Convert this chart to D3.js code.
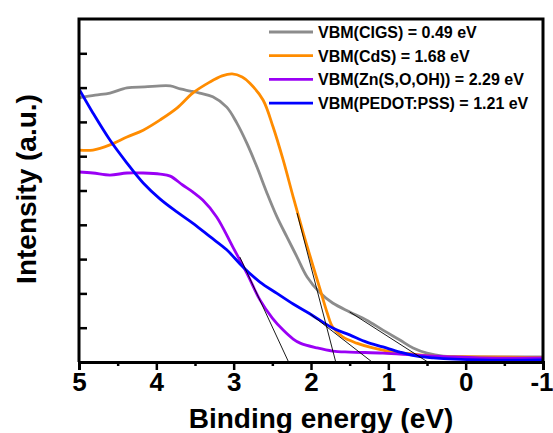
<!DOCTYPE html>
<html>
<head>
<meta charset="utf-8">
<script src="https://cdn.jsdelivr.net/npm/d3@7"></script>
<style>
  html, body { margin: 0; padding: 0; background: #fff; }
  svg { display: block; font-family: Arial, "Liberation Sans", sans-serif; }
</style>
</head>
<body>
<svg id="chart" width="553" height="433"></svg>
<script>
// UPS valence-band spectra: binding energy (eV) vs. intensity (a.u.)
const cigsE   = [5.00, 4.79, 4.60, 4.38, 4.15, 3.82, 3.69, 3.56, 3.44, 3.27, 3.09, 2.96, 2.83, 2.70, 2.57, 2.44, 2.31, 2.18, 2.05, 1.88, 1.72, 1.50, 1.28, 1.07, 0.85, 0.68, 0.50, 0.29, -0.19, -1.00];
const cigsI   = [7.70, 7.78, 7.84, 7.99, 8.02, 8.05, 7.96, 7.90, 7.84, 7.73, 7.43, 6.97, 6.38, 5.69, 4.93, 4.23, 3.64, 3.06, 2.48, 2.01, 1.72, 1.46, 1.22, 0.93, 0.64, 0.41, 0.26, 0.17, 0.15, 0.15];

const cdsE    = [5.00, 4.82, 4.60, 4.38, 4.17, 3.95, 3.73, 3.53, 3.31, 3.15, 3.02, 2.89, 2.79, 2.62, 2.49, 2.36, 2.23, 2.10, 1.97, 1.88, 1.79, 1.72, 1.59, 1.41, 1.20, 0.94, 0.68, 0.42, -0.19, -1.00];
const cdsI    = [6.18, 6.18, 6.33, 6.56, 6.76, 7.06, 7.41, 7.84, 8.16, 8.34, 8.40, 8.31, 8.13, 7.64, 6.85, 5.89, 4.81, 3.76, 2.77, 2.10, 1.43, 1.02, 0.73, 0.55, 0.41, 0.29, 0.23, 0.17, 0.15, 0.13];

const znsE    = [5.00, 4.82, 4.60, 4.38, 4.17, 3.95, 3.82, 3.66, 3.53, 3.40, 3.22, 3.01, 2.83, 2.66, 2.50, 2.36, 2.23, 2.14, 1.92, 1.72, 1.50, 1.07, 0.63, 0.20, -0.19, -1.00];
const znsI    = [5.54, 5.51, 5.45, 5.51, 5.51, 5.48, 5.42, 5.16, 4.96, 4.72, 4.23, 3.35, 2.59, 1.81, 1.28, 0.93, 0.67, 0.55, 0.41, 0.32, 0.29, 0.26, 0.20, 0.15, 0.12, 0.12];

const pedotE  = [5.00, 4.82, 4.60, 4.38, 4.17, 3.95, 3.73, 3.53, 3.31, 3.09, 2.88, 2.66, 2.44, 2.23, 2.01, 1.72, 1.50, 1.28, 1.07, 0.85, 0.63, 0.42, -0.19, -1.00];
const pedotI  = [7.96, 7.26, 6.47, 5.80, 5.22, 4.75, 4.37, 4.05, 3.66, 3.27, 2.77, 2.33, 2.00, 1.69, 1.40, 0.99, 0.79, 0.58, 0.44, 0.29, 0.17, 0.12, 0.06, 0.06];

// Legend text and colours, in drawing order
const seriesNames  = ["VBM(CIGS) = 0.49 eV", "VBM(CdS) = 1.68 eV", "VBM(Zn(S,O,OH)) = 2.29 eV", "VBM(PEDOT:PSS) = 1.21 eV"];
const seriesColors = ["#8c8c8c", "#ff8c00", "#9a00f5", "#0000ff"];

// Valence-band maximum (x-intercept of each linear extrapolation) and the
// point on the leading edge where each extrapolation line starts
const vbm        = [0.49, 1.68, 2.29, 1.21];
const edgeStartE = [1.50, 2.18, 2.92, 2.01];
const edgeStartI = [1.46, 4.34, 3.06, 1.40];

// Axis ticks
const xMajorTicks = [5, 4, 3, 2, 1, 0, -1];
const xMinorTicks = [4.5, 3.5, 2.5, 1.5, 0.5, -0.5];
const yTicks      = [1, 2, 3, 4, 5, 6, 7, 8, 9];

const svg = d3.select("#chart");
const plotL = 79, plotR = 543, plotT = 19, plotB = 362;

const x = d3.scaleLinear().domain([5, -1]).range([plotL, plotR]);
const y = d3.scaleLinear().domain([0, 10]).range([plotB, plotT]);

const series = [
  { E: cigsE,  I: cigsI },
  { E: cdsE,   I: cdsI },
  { E: znsE,   I: znsI },
  { E: pedotE, I: pedotI }
];

svg.append("clipPath").attr("id", "plotClip")
  .append("rect").attr("x", plotL).attr("y", plotT)
  .attr("width", plotR - plotL).attr("height", plotB - plotT);

const plot = svg.append("g").attr("clip-path", "url(#plotClip)");

const line = d3.line()
  .x(d => x(d[0]))
  .y(d => y(d[1]))
  .curve(d3.curveCatmullRom.alpha(0.5));

series.forEach((s, i) => {
  const pts = s.E.map((e, k) => [e, s.I[k]]).sort((a, b) => b[0] - a[0]);
  plot.append("path")
    .attr("d", line(pts))
    .attr("fill", "none")
    .attr("stroke", seriesColors[i])
    .attr("stroke-width", 2.8)
    .attr("stroke-linejoin", "round");
});

// Linear extrapolations of the leading edges down to the baseline
vbm.forEach((v, i) => {
  plot.append("line")
    .attr("x1", x(edgeStartE[i])).attr("y1", y(edgeStartI[i]))
    .attr("x2", x(v)).attr("y2", y(0))
    .attr("stroke", "#000")
    .attr("stroke-width", 0.9);
});

// Frame
svg.append("path")
  .attr("d", `M${plotL},${plotB}V${plotT}H${plotR}V${plotB}`)
  .attr("fill", "none").attr("stroke", "#000").attr("stroke-width", 3);

// Bottom axis with outward ticks
const xAxis = svg.append("g").attr("transform", `translate(0,${plotB})`)
  .call(d3.axisBottom(x).tickValues(xMajorTicks).tickSize(8).tickPadding(3)
        .tickFormat(d => String(d)));
xAxis.select(".domain").attr("stroke-width", 3).attr("stroke", "#000");
xAxis.selectAll(".tick line").attr("stroke-width", 2.5).attr("stroke", "#000");
xAxis.selectAll(".tick text")
  .attr("font-size", 26).attr("font-weight", "bold").attr("fill", "#000")
  .attr("font-family", "Arial, 'Liberation Sans', sans-serif")
  .attr("text-anchor", d => d === -1 ? "end" : "middle")
  .attr("dx", d => d === -1 ? 10 : 0);

const xMinor = svg.append("g").attr("transform", `translate(0,${plotB})`)
  .call(d3.axisBottom(x).tickValues(xMinorTicks).tickSize(4).tickFormat(""));
xMinor.select(".domain").remove();
xMinor.selectAll(".tick line").attr("stroke-width", 2.5).attr("stroke", "#000");

// Left axis with inward ticks, no labels
const yAxis = svg.append("g").attr("transform", `translate(${plotL},0)`)
  .call(d3.axisRight(y).tickValues(yTicks).tickSize(8).tickFormat(""));
yAxis.select(".domain").remove();
yAxis.selectAll(".tick line").attr("stroke-width", 2.5).attr("stroke", "#000");

// Axis titles
svg.append("text")
  .attr("x", 321).attr("y", 428)
  .attr("text-anchor", "middle")
  .attr("font-size", 28).attr("font-weight", "bold")
  .text("Binding energy (eV)");

svg.append("text")
  .attr("transform", "translate(36,189) rotate(-90)")
  .attr("text-anchor", "middle")
  .attr("font-size", 28).attr("font-weight", "bold")
  .text("Intensity (a.u.)");

// Legend
const legend = svg.append("g");
seriesNames.forEach((name, i) => {
  const cy = 32 + i * 23.7;
  legend.append("line")
    .attr("x1", 269).attr("x2", 313)
    .attr("y1", cy).attr("y2", cy)
    .attr("stroke", seriesColors[i]).attr("stroke-width", 2.8);
  legend.append("text")
    .attr("x", 318).attr("y", cy + 6)
    .attr("font-size", 16).attr("font-weight", "bold")
    .text(name);
});
</script>
</body>
</html>
